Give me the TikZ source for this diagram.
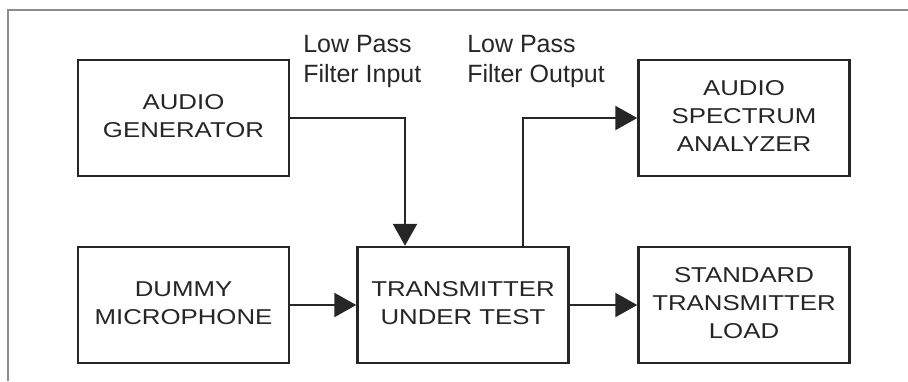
\documentclass[tikz,border=0pt]{standalone}
\usepackage{fontspec}
\setmainfont{Liberation Sans}
\usetikzlibrary{arrows.meta}
\newcommand\widetext[1]{\scalebox{1.2}[1]{\begin{tabular}{@{}c@{}}#1\end{tabular}}}

\begin{document}
\begin{tikzpicture}[x=1pt, y=-1pt, line width=2.5pt,
    block/.style={draw=black!85, text=black!85, minimum width=211pt, minimum height=116pt,
        inner sep=0pt, align=center, font=\fontsize{21.5}{28}\selectfont},
    tag/.style={anchor=north west, inner sep=0pt, align=left, text=black!85,
        font=\fontsize{25}{30}\selectfont},
    feed/.style={draw=black!85, -{Triangle[length=22pt,width=24pt]}}]
    \useasboundingbox (0,0) rectangle (908,381);
    \draw[line width=2pt, color=black!45] (8,381) -- (8,10) -- (908,10);

    \node[block] (gen)  at (183.5,118) {\widetext{AUDIO\\GENERATOR}};
    \node[block] (mic)  at (183.5,305) {\widetext{DUMMY\\MICROPHONE}};
    \node[block] (tx)   at (463,305)   {\widetext{TRANSMITTER\\UNDER TEST}};
    \node[block] (ana)  at (744,118)   {\widetext{AUDIO\\SPECTRUM\\ANALYZER}};
    \node[block] (load) at (744,305)   {\widetext{STANDARD\\TRANSMITTER\\LOAD}};

    \node[tag] (lpin)  at (302,34) {Low Pass\\Filter Input};
    \node[tag] (lpout) at (466,34) {Low Pass\\Filter Output};

    \draw[feed] (gen.east) -| ([xshift=-58pt]tx.north);
    \draw[feed] ([xshift=60pt]tx.north) |- (ana.west);
    \draw[feed] (mic) -- (tx);
    \draw[feed] (tx) -- (load);
\end{tikzpicture}
\end{document}
